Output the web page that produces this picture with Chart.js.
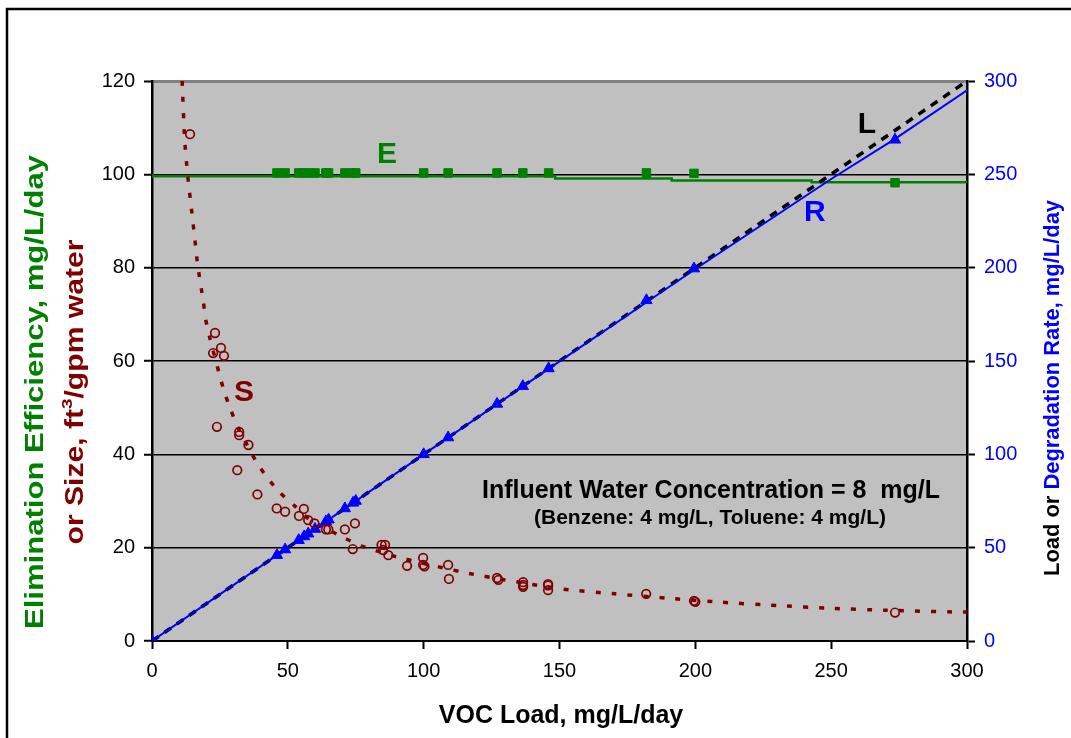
<!DOCTYPE html>
<html>
<head>
<meta charset="utf-8">
<script src="https://cdn.jsdelivr.net/npm/chart.js@4.4.0/dist/chart.umd.min.js"></script>
<style>
  html, body { margin: 0; padding: 0; background: #fff; }
  #wrap { width: 1071px; height: 738px; position: relative; }
</style>
</head>
<body>
<div id="wrap"><canvas id="chart"></canvas></div>
<script>
// measured points (load in mg/L/day)
const loads = [46, 49, 54, 56, 57.5, 60, 64, 65, 71, 74, 75, 100, 109, 127, 136.5, 146, 182, 199.5, 273.5];
const efficiency = [100.3, 100.3, 100.3, 100.3, 100.3, 100.3, 100.3, 100.3, 100.3, 100.3, 100.3, 100.3, 100.3, 100.3, 100.3, 100.3, 100.3, 100.2, 98.2];
const rateLoads = [0, 46, 49, 54, 56, 57.5, 60, 64, 65, 71, 74, 75, 100, 109, 127, 136.5, 146, 182, 199.5, 273.5];
const rates = [0, 46, 49, 54, 56, 57.5, 60, 64, 65, 71, 74, 75, 100, 109, 127, 136.5, 146, 182.5, 199.5, 268.5];

// size observations
const sizeX = [14, 22.5, 23.2, 25.4, 26.5, 23.9, 32.1, 32.1, 35.5, 31.4, 38.8, 45.9, 49, 54.1, 55.9, 57.5, 59.8,
  64, 64.9, 71, 74.7, 73.9, 84.5, 85.8, 85.1, 87, 93.9, 99.8, 99.8, 100.3, 109, 109.3, 127, 127.5,
  136.6, 136.6, 136.6, 145.8, 145.8, 145.8, 181.9, 199.5, 200, 273.5];
const sizeY = [108.6, 61.7, 66, 62.8, 61.1, 45.9, 44.8, 44.1, 42, 36.6, 31.4, 28.4, 27.7, 26.8, 28.3, 25.9, 25.2,
  23.9, 23.9, 23.9, 25.2, 19.7, 20.6, 20.6, 19.5, 18.4, 16.1, 17.8, 16.3, 16, 16.3, 13.3, 13.5, 13.1,
  12.6, 12, 11.6, 12.2, 11.9, 10.9, 10.1, 8.6, 8.4, 6.1];

// model curves
const sizeCurveX = [11.1, 12.0, 13.1, 14.6, 16.1, 16.8, 18.9, 19.8, 21.3, 24.7, 26.6, 29.0, 31.8, 38.5, 42.3, 47.1,
  52.6, 58.2, 63.7, 70.4, 77.0, 90.2, 116.5, 150, 170.4, 189.3, 209.6, 230, 250.4, 269.3, 297, 300];
const sizeCurveY = [120, 107.6, 100.0, 92.2, 84.3, 80.6, 72.7, 68.8, 64.9, 57.4, 53.4, 49.5, 45.6, 38.3, 35.1, 31.8,
  28.9, 25.9, 24.2, 22.2, 20.4, 18.0, 14.5, 11.2, 10.1, 9.2, 8.3, 7.6, 7.0, 6.6, 6.2, 6.2];
const effCurveX = [0, 148.4, 191.3, 242.8, 266.8, 300];
const effCurveY = [100, 99.6, 99.1, 98.7, 98.3, 98.3];
const loadLineX = [0, 300];
const loadLineY = [0, 300];
const rateCurveX = [0, 100, 150, 200, 250, 273.5, 300];
const rateCurveY = [0, 100, 149.8, 199.3, 247.5, 269, 295];

const xTicks = [0, 50, 100, 150, 200, 250, 300];

const GREEN = '#008000', RED = '#800000', BLUE = '#0000FF';
const FONT = '"Liberation Sans", Arial, sans-serif';

function pts(xs, ys) { return xs.map((x, i) => ({ x: x, y: ys[i] })); }

const frame = {
  id: 'frame',
  beforeDraw(chart) {
    const c = chart.ctx, a = chart.chartArea;
    c.save();
    c.fillStyle = '#fff';
    c.fillRect(0, 0, chart.width, chart.height);
    c.fillStyle = '#C0C0C0';
    c.fillRect(a.left, a.top, a.right - a.left, a.bottom - a.top);
    c.strokeStyle = '#000';
    c.lineWidth = 2.5;
    c.strokeRect(7, 9, 1090, 760);
    c.restore();
  },
  afterDraw(chart) {
    const c = chart.ctx;
    const sx = chart.scales.x, sy = chart.scales.y, sr = chart.scales.y2;
    c.save();
    c.textAlign = 'center';
    c.textBaseline = 'middle';
    c.font = 'bold 30px ' + FONT;
    c.fillStyle = GREEN; c.fillText('E', sx.getPixelForValue(86.5), sy.getPixelForValue(104.1));
    c.fillStyle = RED; c.fillText('S', sx.getPixelForValue(33.9), sy.getPixelForValue(53.1));
    c.fillStyle = '#000'; c.fillText('L', sx.getPixelForValue(263.2), sr.getPixelForValue(276.4));
    c.fillStyle = BLUE; c.fillText('R', sx.getPixelForValue(244), sr.getPixelForValue(229.3));

    c.fillStyle = '#000';
    c.font = 'bold 25px ' + FONT;
    c.fillText('Influent Water Concentration = 8  mg/L', 711, 491);
    c.font = 'bold 21px ' + FONT;
    c.fillText('(Benzene: 4 mg/L, Toluene: 4 mg/L)', 710, 518);

    // x title
    c.font = 'bold 25px ' + FONT;
    c.fillText('VOC Load, mg/L/day', 561, 716);

    // rotated titles, stretched to the length they have in the original
    function rotated(cx, cy, parts, size, len) {
      c.save();
      c.translate(cx, cy);
      c.rotate(-Math.PI / 2);
      c.textAlign = 'left';
      let total = 0;
      parts.forEach(p => {
        c.font = 'bold ' + (p.sup ? size * 0.62 : size) + 'px ' + FONT;
        p.w = c.measureText(p.t).width;
        total += p.w;
      });
      const k = len ? len / total : 1;
      c.scale(k, 1);
      let x = -total / 2;
      parts.forEach(p => {
        c.font = 'bold ' + (p.sup ? size * 0.62 : size) + 'px ' + FONT;
        c.fillStyle = p.c;
        c.fillText(p.t, x, p.sup ? -size * 0.35 : 0);
        x += p.w;
      });
      c.restore();
    }
    rotated(36, 392, [{ t: 'Elimination Efficiency, mg/L/day', c: GREEN }], 25, 474);
    rotated(76, 392, [{ t: 'or Size, ft', c: RED }, { t: '3', c: RED, sup: true }, { t: '/gpm water', c: RED }], 25, 305);
    rotated(1053, 388, [{ t: 'Load or ', c: '#000' }, { t: 'Degradation Rate, mg/L/day', c: BLUE }], 22, 376);
    c.restore();
  }
};

new Chart(document.getElementById('chart'), {
  type: 'scatter',
  data: {
    datasets: [
      { label: 'S', data: pts(sizeX, sizeY), yAxisID: 'y', showLine: false, pointStyle: 'circle',
        pointRadius: 4.3, pointBorderColor: RED, pointBackgroundColor: 'rgba(0,0,0,0)', pointBorderWidth: 1.7, order: 1 },
      { label: 'R pts', data: pts(rateLoads, rates), yAxisID: 'y2', showLine: false, pointStyle: 'triangle',
        pointRadius: 6.5, pointBorderColor: BLUE, pointBackgroundColor: BLUE, pointBorderWidth: 1, order: 2 },
      { label: 'R', data: pts(rateCurveX, rateCurveY), yAxisID: 'y2', showLine: true, pointRadius: 0,
        borderColor: BLUE, borderWidth: 2, order: 3 },
      { label: 'L', data: pts(loadLineX, loadLineY), yAxisID: 'y2', showLine: true, pointRadius: 0,
        borderColor: '#000', borderWidth: 3.5, borderDash: [8, 7], order: 4 },
      { label: 'S curve', data: pts(sizeCurveX, sizeCurveY), yAxisID: 'y', showLine: true, pointRadius: 0,
        borderColor: RED, borderWidth: 3.5, borderDash: [5, 11], tension: 0.2, order: 5 },
      { label: 'E pts', data: pts(loads, efficiency), yAxisID: 'y', showLine: false, pointStyle: 'rect',
        pointRadius: 6, pointBorderColor: GREEN, pointBackgroundColor: GREEN, pointBorderWidth: 1, order: 6 },
      { label: 'E', data: pts(effCurveX, effCurveY), yAxisID: 'y', showLine: true, stepped: 'after',
        pointRadius: 0, borderColor: GREEN, borderWidth: 2.5, order: 7 }
    ]
  },
  options: {
    responsive: true,
    maintainAspectRatio: false,
    animation: false,
    layout: { padding: { top: 81, left: 0, right: 0, bottom: 0 } },
    plugins: { legend: { display: false }, tooltip: { enabled: false } },
    scales: {
      x: {
        type: 'linear', min: 0, max: 300,
        afterBuildTicks: s => { s.ticks = xTicks.map(v => ({ value: v })); },
        afterFit: s => { s.height = 97; },
        grid: { drawOnChartArea: false, tickLength: 8, tickColor: '#000', tickWidth: 2 },
        border: { color: '#000', width: 2 },
        ticks: { color: '#000', padding: 10, font: { family: FONT, size: 20 } }
      },
      y: {
        type: 'linear', position: 'left', min: 0, max: 120,
        afterFit: s => { s.width = 152; },
        grid: {
          color: c => c.tick && c.tick.value === 120 ? '#808080' : '#000',
          lineWidth: c => c.tick && c.tick.value === 120 ? 3 : 1.5,
          tickLength: 8, tickColor: '#000', tickWidth: 2
        },
        border: { color: '#000', width: 2.5 },
        ticks: { stepSize: 20, color: '#000', padding: 9, font: { family: FONT, size: 20 } }
      },
      y2: {
        type: 'linear', position: 'right', min: 0, max: 300,
        afterFit: s => { s.width = 104; },
        grid: { drawOnChartArea: false, tickLength: 8, tickColor: '#000', tickWidth: 2 },
        border: { color: '#000', width: 2.5 },
        ticks: { stepSize: 50, color: BLUE, padding: 9, font: { family: FONT, size: 20 } }
      }
    }
  },
  plugins: [frame]
});
</script>
</body>
</html>
